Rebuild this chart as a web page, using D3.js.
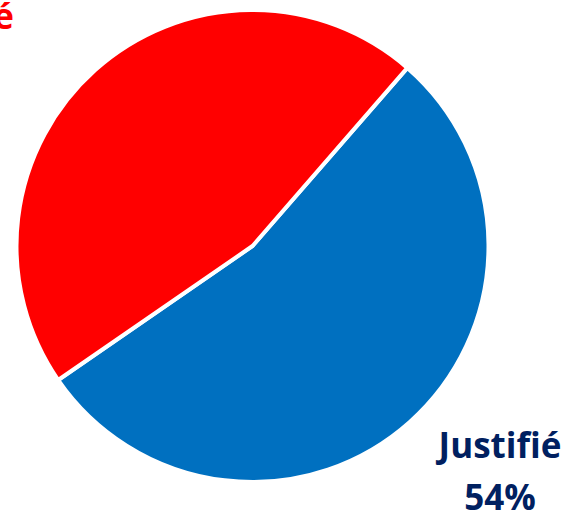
<!DOCTYPE html>
<html>
<head>
<meta charset="utf-8">
<script src="https://cdn.jsdelivr.net/npm/d3@7"></script>
<style>
  html, body { margin: 0; padding: 0; background: #ffffff; overflow: hidden; }
  svg { display: block; }
</style>
</head>
<body>
<svg id="chart" width="566" height="512"></svg>
<script>
const categories = ["Justifié", "Non justifié"];
const values = [54, 46];
const percentLabels = ["54%", "46%"];
const colors = ["#0070C0", "#FF0000"];
const labelColors = ["#002060", "#FF0000"];

const W = 566, H = 512;
const cx = 252.5, cy = 246, radius = 236;
const startDeg = 41;

const svg = d3.select("#chart");
const g = svg.append("g").attr("transform", `translate(${cx},${cy})`);

const data = categories.map((c, i) => ({ cat: c, value: values[i], pct: percentLabels[i], color: colors[i], lc: labelColors[i] }));

const pie = d3.pie()
  .value(d => d.value)
  .sort(null)
  .startAngle(startDeg * Math.PI / 180)
  .endAngle(startDeg * Math.PI / 180 + 2 * Math.PI);

const arc = d3.arc().innerRadius(0).outerRadius(radius);

g.selectAll("path.slice")
  .data(pie(data))
  .join("path")
  .attr("class", "slice")
  .attr("d", arc)
  .attr("fill", d => d.data.color)
  .attr("stroke", "#ffffff")
  .attr("stroke-width", 4)
  .attr("stroke-linejoin", "miter");

const fontFamily = "'Open Sans', 'Liberation Sans', sans-serif";
const fontSize = 35;

// label positions (absolute)
const labelPos = [
  { x: 500, y1: 458, y2: 510 },
  { xEnd: 14, y1: 29, y2: 81 }
];

data.forEach((d, i) => {
  const t = svg.append("text")
    .attr("font-family", fontFamily)
    .attr("font-size", fontSize)
    .attr("font-weight", "bold")
    .attr("fill", d.lc)
    .attr("text-anchor", "middle");
  const l1 = t.append("tspan").text(d.cat).attr("y", labelPos[i].y1);
  const l2 = t.append("tspan").text(d.pct).attr("y", labelPos[i].y2);
  let x = labelPos[i].x;
  if (x === undefined) {
    const w = l1.node().getComputedTextLength();
    x = labelPos[i].xEnd - w / 2;
  }
  l1.attr("x", x);
  l2.attr("x", x);
});
</script>
</body>
</html>
